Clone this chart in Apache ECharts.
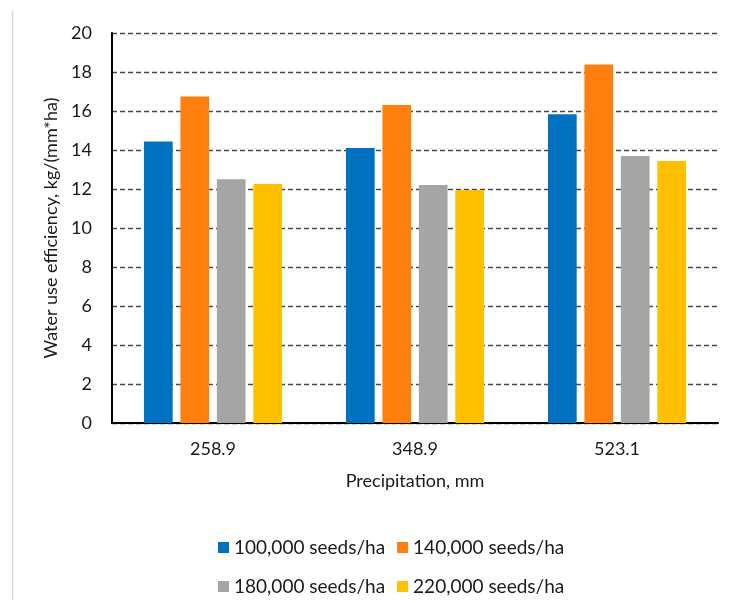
<!DOCTYPE html>
<html>
<head>
<meta charset="utf-8">
<script src="https://cdn.jsdelivr.net/npm/echarts@6/dist/echarts.min.js"></script>
<style>html,body{margin:0;padding:0;background:#fff;}#c{width:729px;height:603px;}</style>
</head>
<body>
<div id="c"></div>
<script>
const categories = ['258.9', '348.9', '523.1'];
const seriesNames = ['100,000 seeds/ha', '140,000 seeds/ha', '180,000 seeds/ha', '220,000 seeds/ha'];
const s100 = [14.43, 14.1, 15.83];
const s140 = [16.75, 16.31, 18.38];
const s180 = [12.5, 12.2, 13.69];
const s220 = [12.26, 11.95, 13.44];
const colors = ['#0070C0', '#FF7F0E', '#A5A5A5', '#FFC000'];

const FONT = 'Lato';
const TXT = '#1a1a1a';
const chart = echarts.init(document.getElementById('c'), null, {renderer: 'canvas'});
const values = [s100, s140, s180, s220];
const legendBase = {left: 213, itemWidth: 11, itemHeight: 11, itemGap: 12, icon: 'rect',
  textStyle: {fontFamily: FONT, fontSize: 19, color: TXT}};
chart.setOption({
  animation: false,
  textStyle: {fontFamily: FONT},
  grid: {left: 112, top: 33, width: 606, height: 390, containLabel: false},
  legend: [
    Object.assign({data: seriesNames.slice(0, 2), top: 533}, legendBase),
    Object.assign({data: seriesNames.slice(2, 4), top: 572}, legendBase)
  ],
  xAxis: {
    type: 'category', data: categories,
    axisLine: {lineStyle: {color: '#000', width: 2}}, axisTick: {show: false},
    axisLabel: {fontFamily: FONT, fontSize: 18, color: TXT, margin: 17},
    name: 'Precipitation, mm', nameLocation: 'middle', nameGap: 49,
    nameTextStyle: {fontFamily: FONT, fontSize: 18, color: TXT}
  },
  yAxis: {
    type: 'value', min: 0, max: 20, interval: 2,
    axisLine: {show: true, lineStyle: {color: '#000', width: 2}}, axisTick: {show: false},
    axisLabel: {fontFamily: FONT, fontSize: 18, color: TXT, margin: 20},
    splitLine: {show: true, lineStyle: {color: '#4a4a4a', type: [5, 3], width: 1.3}},
    name: 'Water use efficiency, kg/(mm*ha)', nameLocation: 'middle', nameGap: 49, nameRotate: 90,
    nameTextStyle: {fontFamily: FONT, fontSize: 18, color: TXT}
  },
  series: seriesNames.map((n, i) => ({
    name: n, type: 'bar',
    data: values[i], barWidth: 28.7, barGap: '27%',
    itemStyle: {color: colors[i]}
  })),
  graphic: [
    {type: 'line', shape: {x1: 12.5, y1: 10, x2: 12.5, y2: 600}, style: {stroke: '#d9d9d9', lineWidth: 1.5}, silent: true}
  ]
});
</script>
</body>
</html>
